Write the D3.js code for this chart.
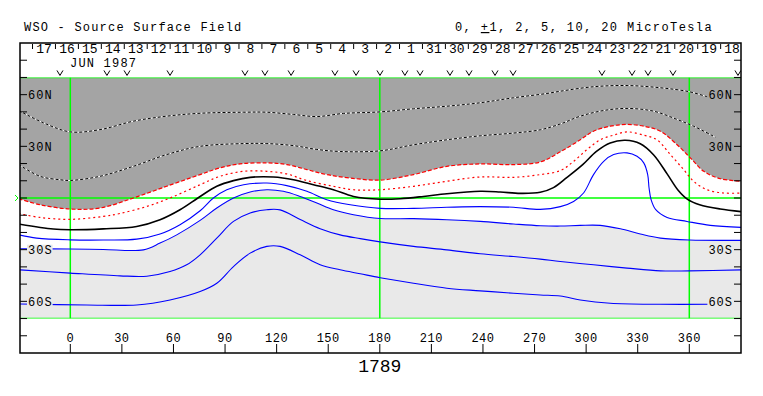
<!DOCTYPE html>
<html>
<head>
<meta charset="utf-8">
<script src="https://cdn.jsdelivr.net/npm/d3@7"></script>
<style>
  body { margin: 0; background: #fff; }
  text { font-family: "Liberation Mono", "DejaVu Sans Mono", monospace; fill: #000; }
</style>
</head>
<body>
<svg id="chart" width="763" height="396"></svg>
<script>
// Contours of the source surface field, [longitude, latitude].
let pos10 = [[-30, 50.8], [-15.5, 43.6], [0, 38.4], [17.3, 39.7], [36.7, 44.6], [56, 47.5],
  [75.5, 49.2], [100.8, 49.8], [114.3, 49.8], [129.8, 48.5], [143.4, 47.3], [158.9, 49.1],
  [180.2, 50.0], [199.6, 51.8], [219, 53.3], [238.4, 55.3], [257.8, 58.2], [277.2, 60.7],
  [285, 62.0], [304.3, 64.6], [323.8, 65.3], [343.2, 64.0], [360, 61.7], [371.3, 58.5]];
let pos5 = [[-30, 19.4], [-17.6, 12.6], [-6, 10.6], [0, 10.2], [17.3, 12.6], [36.7, 18.4],
  [56, 25.2], [75.5, 30.0], [100.8, 31.6], [114.3, 31.6], [129.8, 30.4], [143.4, 28.2],
  [156.9, 27.0], [180.2, 27.4], [199.6, 30.9], [219, 33.8], [238.4, 36.1], [257.8, 37.7],
  [273.3, 39.6], [285, 43.0], [296.6, 47.5], [310.2, 50.8], [323.8, 52.0], [339.3, 50.4],
  [352.9, 45.6], [362.5, 41.7], [375.2, 35.3]];
let pos2 = [[-30, -0.4], [-17.6, -3.9], [0, -6.4], [17.3, -5.8], [36.7, 0], [56, 6.8],
  [75.5, 13.6], [87.1, 17.5], [98.7, 19.8], [114.3, 20.4], [125.9, 19.4], [137.6, 16.5],
  [149.2, 13.6], [162.8, 11.6], [180.2, 10.4], [199.6, 13.6], [219, 18.4], [238.4, 19.8],
  [257.8, 19.4], [273.3, 20.9], [285, 26.8], [296.6, 33.8], [304.3, 38.8], [314, 41.7],
  [323.8, 42.7], [333.5, 41.7], [343.2, 38.8], [352.9, 30.9], [360.6, 23.3], [368.4, 15.5],
  [378.1, 11.2], [391, 9.7]];
let pos1 = [[-30, -9.0], [-17.6, -11.3], [0, -12.4], [19.2, -10.7], [28.9, -9.0], [44.5, -4.9],
  [58, 0], [75.5, 7.7], [87.1, 12.6], [100.8, 15.5], [114.3, 15.5], [125.9, 14.0],
  [137.6, 10.1], [153, 6.8], [164.7, 4.8], [180.2, 4.8], [199.6, 6.8], [219, 9.7],
  [238.4, 12.2], [257.8, 12.0], [273.3, 13.6], [285, 15.9], [292.7, 21.3], [300.5, 28.1],
  [308.2, 33.8], [316, 36.5], [323.8, 38.4], [333.5, 36.5], [341.2, 33.8], [349, 25.2],
  [356.7, 16.5], [362.5, 9.7], [370.3, 4.8], [380, 2.9], [391, 2.9]];
let zero = [[-30, -15.1], [-9.9, -18.0], [0, -18.4], [19.2, -17.9], [38.6, -16.5], [52.2, -12.6],
  [63.8, -6.8], [75.5, 0.9], [85.2, 6.8], [94.9, 10.1], [104.6, 12.0], [118.1, 12.2],
  [129.8, 10.6], [141.4, 7.7], [153, 4.8], [164.7, 0.9], [180.2, -0.7], [191.9, -0.4],
  [205.4, 0.9], [219, 2.5], [238.4, 3.9], [250, 3.5], [261.7, 2.7], [273.3, 3.3],
  [281, 6.0], [288.9, 12.0], [298, 19.4], [306, 27.1], [314, 32.0], [322.8, 33.5],
  [331.5, 31.5], [339.3, 25.0], [347.1, 14.0], [353.5, 4.5], [359, -0.8], [366, -3.9],
  [378, -6.4], [391, -8.0]];
let neg1 = [[-30, -21.4], [-19.6, -23.3], [0, -24.3], [19.2, -24.4], [38.6, -23.9], [52.2, -20.9],
  [63.8, -15.5], [75.5, -7.4], [83.2, 0], [91, 4.8], [100.8, 7.7], [114.3, 8.7], [125.9, 7.2],
  [137.6, 3.9], [149.2, -1.0], [162.8, -3.9], [180.2, -6.0], [199.6, -6.0], [219, -5.4],
  [238.4, -5.0], [257.8, -5.4], [273.3, -6.6], [285, -5.0], [292.7, -2.0], [298.5, 2.9],
  [304.3, 13.6], [310.2, 21.3], [316, 25.2], [323.8, 26.2], [329.6, 24.2], [333.5, 20.4],
  [335.8, 13.6], [336.6, 5.8], [337.8, -1.0], [340.5, -6.8], [347.1, -11.3], [358.7, -13.6],
  [372.2, -15.9], [391, -17.1]];
let neg2 = [[-30, -29.5], [0, -29.6], [19.2, -29.9], [42.5, -30.1], [52.2, -26.2], [61.9, -21.4],
  [75.5, -13.0], [85.2, -5.8], [94.9, 0], [104.6, 3.5], [114.3, 4.8], [123.9, 3.9],
  [133.7, 0.9], [143.4, -2.9], [153, -6.8], [164.7, -9.7], [180.2, -11.9], [199.6, -12.0],
  [219, -12.6], [238.4, -13.6], [257.8, -15.1], [273.3, -16.1], [285, -16.3], [296.6, -15.9],
  [308.2, -15.9], [319.9, -17.9], [331.5, -20.9], [343.2, -23.3], [360, -24.4], [391, -24.6]];
let neg5 = [[-30, -41.7], [0, -43.6], [28.9, -45.2], [44.5, -45.4], [58, -42.7], [67.7, -38.8],
  [75.5, -33.0], [85.2, -23.3], [94.9, -13.6], [104.6, -8.7], [114.3, -6.8], [122, -6.9],
  [133.7, -12.5], [145.3, -17.8], [156.9, -21.4], [168.6, -23.6], [180.2, -25.5], [199.6, -28.1],
  [219, -30.1], [238.4, -32.4], [257.8, -34.0], [273.3, -35.5], [285, -36.9], [304.3, -38.8],
  [323.8, -40.7], [343.2, -42.3], [360, -42.3], [391, -41.7]];
let neg10 = [[-30, -61.5], [9.5, -62.1], [38.6, -62.1], [58, -59.2], [75.5, -54.3], [85.2, -49.5],
  [94.9, -39.8], [104.6, -32.0], [114.3, -28.1], [122, -28.1], [133.7, -33.0], [145.3, -38.8],
  [156.9, -41.7], [168.6, -44.0], [180.2, -46.3], [199.6, -49.5], [219, -52.4], [238.4, -53.9],
  [257.8, -55.3], [273.3, -56.3], [285, -56.9], [296.6, -59.2], [314, -61.1], [343.2, -61.7],
  [372, -61.7]];

// Observation markers along the top, in longitude.
let obsLons = [-6.0, 21.3, 33.0, 58.0, 101.6, 113.2, 128.4, 153.9, 166.2, 180.1, 194.6, 203.4,
  220.8, 231.9, 247.0, 257.5, 309.2, 326.7, 336.0, 350.5, 388.3];

// Day-of-month labels across the rotation, time running right to left.
let dayLabels = ['17', '16', '15', '14', '13', '12', '11', '10', '9', '8', '7', '6', '5', '4',
  '3', '2', '1', '31', '30', '29', '28', '27', '26', '25', '24', '23', '22', '21', '20', '19', '18'];
let dayLon0 = -15.3;
let dayStep = 13.34;

let lonTicks = d3.range(0, 361, 30);
let latTicks = d3.range(-80, 81, 10);
let latLabels = [[60, '60N'], [30, '30N'], [-30, '30S'], [-60, '60S']];
let rotation = '1789';
let monthLabel = 'JUN 1987';
let title = 'WSO - Source Surface Field';

let darkGray = '#a4a4a4';
let lightGray = '#e9e9e9';
let green = '#00ff00';

let svg = d3.select('#chart');
let x = d3.scaleLinear().domain([0, 360]).range([70.3, 689.3]);
let y = d3.scaleLinear().domain([90, -90]).range([43, 353]);
let left = 20, right = 741;
let curve = d3.curveCatmullRom.alpha(0.5);

svg.append('defs').append('clipPath').attr('id', 'plotClip')
    .append('rect')
    .attr('x', left).attr('y', y(70))
    .attr('width', right - left).attr('height', y(-70) - y(70));
svg.select('defs').append('clipPath').attr('id', 'frameClip')
    .append('rect')
    .attr('x', left).attr('y', y(90))
    .attr('width', right - left).attr('height', y(-90) - y(90));

let plot = svg.append('g').attr('clip-path', 'url(#plotClip)');

// Shading: strong positive field dark, strong negative field light.
plot.append('path').datum(pos2)
    .attr('fill', darkGray)
    .attr('d', d3.area().x(d => x(d[0])).y0(y(70)).y1(d => y(d[1])).curve(curve));
plot.append('path').datum(neg2)
    .attr('fill', lightGray)
    .attr('d', d3.area().x(d => x(d[0])).y0(y(-70)).y1(d => y(d[1])).curve(curve));

// Green reference lines.
plot.selectAll('line.hgrid')
    .data([70, 0, -70])
    .join('line')
    .attr('class', 'hgrid')
    .attr('x1', left).attr('x2', right)
    .attr('y1', d => y(d)).attr('y2', d => y(d))
    .attr('stroke', green).attr('stroke-width', 1.5);
plot.selectAll('line.vgrid')
    .data([0, 180, 360])
    .join('line')
    .attr('class', 'vgrid')
    .attr('x1', d => x(d)).attr('x2', d => x(d))
    .attr('y1', y(70)).attr('y2', y(-70))
    .attr('stroke', green).attr('stroke-width', 1.5);

let line = d3.line().x(d => x(d[0])).y(d => y(d[1])).curve(curve);

// Positive 5 and 10: black dashes on white.
[pos10, pos5].forEach(pts => {
  plot.append('path').datum(pts).attr('d', line)
      .attr('fill', 'none').attr('stroke', '#fff').attr('stroke-width', 1);
  plot.append('path').datum(pts).attr('d', line)
      .attr('fill', 'none').attr('stroke', '#000').attr('stroke-width', 1)
      .attr('stroke-dasharray', '3,2');
});
plot.append('path').datum(pos2).attr('d', line)
    .attr('fill', 'none').attr('stroke', '#ff0000').attr('stroke-width', 1.2)
    .attr('stroke-dasharray', '4,2');
plot.append('path').datum(pos1).attr('d', line)
    .attr('fill', 'none').attr('stroke', '#ff0000').attr('stroke-width', 1.2)
    .attr('stroke-dasharray', '2,3');
plot.append('path').datum(zero).attr('d', line)
    .attr('fill', 'none').attr('stroke', '#000').attr('stroke-width', 1.6);
[neg1, neg2, neg5, neg10].forEach(pts => {
  plot.append('path').datum(pts).attr('d', line)
      .attr('fill', 'none').attr('stroke', '#0000ff').attr('stroke-width', 1.1);
});

// Latitude labels, knocked out of the lines behind them.
let labelG = svg.append('g');
latLabels.forEach(([lat, txt]) => {
  let bg = lat > 0 ? darkGray : lightGray;
  [['start', left + 8], ['end', right - 8]].forEach(([anchor, tx]) => {
    let t = labelG.append('text')
        .attr('x', tx).attr('y', y(lat) + 4.5)
        .attr('text-anchor', anchor)
        .attr('font-size', 12).attr('letter-spacing', 1)
        .text(txt);
    let bb = t.node().getBBox();
    labelG.insert('rect', 'text')
        .attr('x', bb.x - 1).attr('y', y(lat) - 5)
        .attr('width', bb.width + 1).attr('height', 10)
        .attr('fill', bg);
  });
});

// Latitude ticks on both sides.
svg.selectAll('line.latTick')
    .data(latTicks.flatMap(d => [[d, left, left + 7], [d, right - 7, right]]))
    .join('line')
    .attr('class', 'latTick')
    .attr('x1', d => d[1]).attr('x2', d => d[2])
    .attr('y1', d => y(d[0])).attr('y2', d => y(d[0]))
    .attr('stroke', '#000').attr('stroke-width', 1);

// Longitude axis.
svg.selectAll('line.lonTick')
    .data(lonTicks)
    .join('line')
    .attr('class', 'lonTick')
    .attr('x1', d => x(d)).attr('x2', d => x(d))
    .attr('y1', y(-90) - 9).attr('y2', y(-90))
    .attr('stroke', '#000').attr('stroke-width', 1);
svg.selectAll('text.lonLabel')
    .data(lonTicks)
    .join('text')
    .attr('class', 'lonLabel')
    .attr('x', d => x(d)).attr('y', y(-90) - 11)
    .attr('text-anchor', 'middle')
    .attr('font-size', 12).attr('letter-spacing', 0.5)
    .text(d => d);

// Day header.
let header = svg.append('g').attr('clip-path', 'url(#frameClip)');
header.selectAll('line.dayTick')
    .data(dayLabels)
    .join('line')
    .attr('class', 'dayTick')
    .attr('x1', (d, i) => x(dayLon0 + (i - 0.5) * dayStep))
    .attr('x2', (d, i) => x(dayLon0 + (i - 0.5) * dayStep))
    .attr('y1', y(90) + 1).attr('y2', y(90) + 6)
    .attr('stroke', '#000').attr('stroke-width', 1);
header.selectAll('text.day')
    .data(dayLabels)
    .join('text')
    .attr('class', 'day')
    .attr('x', (d, i) => x(dayLon0 + i * dayStep))
    .attr('y', y(90) + 10)
    .attr('text-anchor', 'middle')
    .attr('font-size', 13)
    .text(d => d);
header.append('text')
    .attr('x', 70).attr('y', 67)
    .attr('font-size', 12).attr('letter-spacing', 1.2)
    .text(monthLabel);
header.selectAll('path.obs')
    .data(obsLons)
    .join('path')
    .attr('class', 'obs')
    .attr('d', d => {
      let p = d3.path();
      p.moveTo(x(d) - 3, y(70) - 7);
      p.lineTo(x(d), y(70) - 2);
      p.lineTo(x(d) + 3, y(70) - 7);
      return p.toString();
    })
    .attr('fill', 'none').attr('stroke', '#000').attr('stroke-width', 1);

// Equator marker outside the frame.
let em = d3.path();
em.moveTo(left - 5, y(0) - 3);
em.lineTo(left - 2, y(0));
em.lineTo(left - 5, y(0) + 3);
svg.append('path').attr('d', em.toString())
    .attr('fill', 'none').attr('stroke', green).attr('stroke-width', 1);

// Frame.
svg.append('rect')
    .attr('x', left).attr('y', y(90))
    .attr('width', right - left).attr('height', y(-90) - y(90))
    .attr('fill', 'none').attr('stroke', '#000').attr('stroke-width', 1.5);

// Titles.
svg.append('text')
    .attr('x', 24).attr('y', 31)
    .attr('font-size', 12).attr('letter-spacing', 1.2)
    .text(title);
let units = svg.append('text')
    .attr('x', 455).attr('y', 31)
    .attr('font-size', 12).attr('letter-spacing', 1.4);
units.append('tspan').text('0, ');
units.append('tspan').attr('text-decoration', 'underline').text('+');
units.append('tspan').text('1, 2, 5, 10, 20 MicroTesla');
svg.append('text')
    .attr('x', x(180)).attr('y', 372)
    .attr('text-anchor', 'middle')
    .attr('font-size', 18)
    .text(rotation);
</script>
</body>
</html>
